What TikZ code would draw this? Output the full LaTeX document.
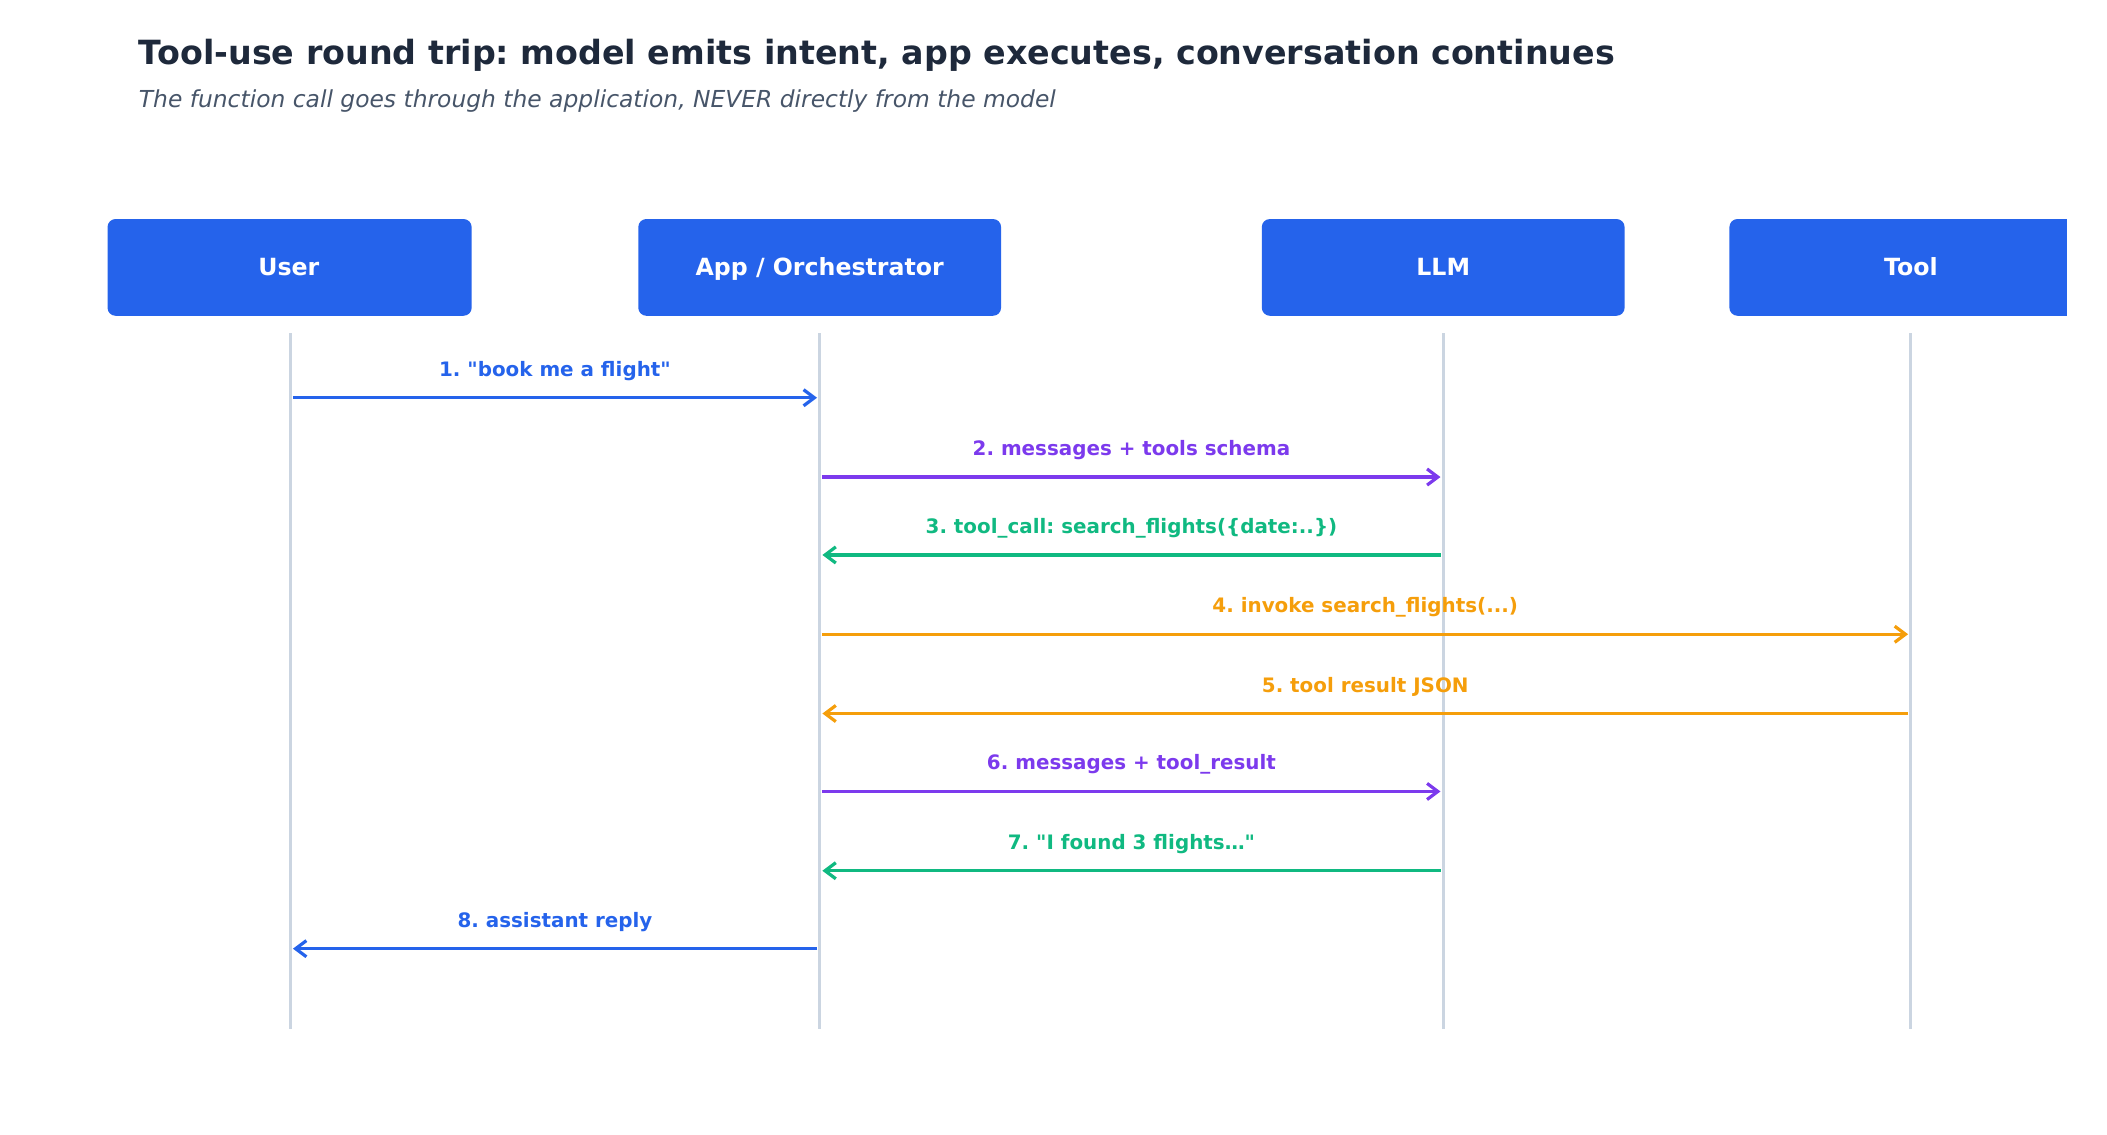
\documentclass[tikz,border=0pt]{standalone}
\usepackage{fontspec}
\setmainfont{DejaVu Sans}[Ligatures=TeXOff]
\usetikzlibrary{arrows.meta}
\definecolor{boxb}{HTML}{2563EB}
\definecolor{cblue}{HTML}{2563EB}
\definecolor{cpurp}{HTML}{7C3AED}
\definecolor{cgreen}{HTML}{10B981}
\definecolor{corange}{HTML}{F59E0B}
\definecolor{ctitle}{HTML}{1E293B}
\definecolor{csub}{HTML}{475569}
\definecolor{cline}{HTML}{CBD5E1}
\frenchspacing
\begin{document}
\begin{tikzpicture}[x=0.5pt,y=-0.5pt,
  actor/.style={fill=boxb,rounded corners=3pt,draw=none},
  atext/.style={text=white,font=\fontsize{8.8}{10}\selectfont\bfseries,anchor=base},
  life/.style={draw=cline,line width=1.1pt},
  msg/.style={line width=1.2pt,-{Straight Barb[length=4pt,width=6pt]}},
  lab/.style={font=\fontsize{7.4}{8}\selectfont\bfseries,anchor=base}]
\useasboundingbox (0,0) rectangle (1568,844);
\node[anchor=base west,text=ctitle,font=\fontsize{12.4}{14}\selectfont\bfseries,inner sep=0] (title) at (103,48) {Tool-use round trip: model emits intent, app executes, conversation continues};
\node[anchor=base west,text=csub,font=\fontsize{8.7}{10}\selectfont\itshape,inner sep=0] (sub) at (103,80) {The function call goes through the application, NEVER directly from the model};
\fill[actor] (80,163) rectangle (351,235);
\fill[actor] (475,163) rectangle (745,235);
\fill[actor] (939,163) rectangle (1209,235);
\fill[boxb,rounded corners=3pt] (1287,163) -- (1538,163) -- (1538,235) -- (1287,235) -- cycle;
\fill[boxb] (1500,163) rectangle (1538,235);
\node[atext] (u) at (215,205) {User};
\node[atext] (a) at (610,205) {App / Orchestrator};
\node[atext] (l) at (1074,205) {LLM};
\node[atext] (t) at (1422,205) {Tool};
\foreach \n/\x in {U/216,A/610,L/1074,T/1422}{
  \coordinate (\n top) at (\x,248); \coordinate (\n bot) at (\x,766);
  \draw[life] (\n top) -- (\n bot);}
\foreach \y in {296,355,413,472,531,589,648,706}{
  \coordinate (U\y) at (218,\y); \coordinate (A\y) at (612,\y);
  \coordinate (Ai\y) at (608,\y);
  \coordinate (L\y) at (1072,\y); \coordinate (T\y) at (1420,\y);}
\draw[msg,cblue] (U296) -- (Ai296) node[lab,midway,above=8pt,anchor=base] {1. "book me a flight"};
\draw[msg,cpurp] (A355) -- (L355) node[lab,midway,above=8pt,anchor=base] {2. messages + tools schema};
\draw[msg,cgreen] (L413) -- (A413) node[lab,midway,above=8pt,anchor=base] {3. tool\_call: search\_flights(\{date:..\})};
\draw[msg,corange] (A472) -- (T472) node[lab,midway,above=8pt,anchor=base] {4. invoke search\_flights(...)};
\draw[msg,corange] (T531) -- (A531) node[lab,midway,above=8pt,anchor=base] {5. tool result JSON};
\draw[msg,cpurp] (A589) -- (L589) node[lab,midway,above=8pt,anchor=base] {6. messages + tool\_result};
\draw[msg,cgreen] (L648) -- (A648) node[lab,midway,above=8pt,anchor=base] {7. "I found 3 flights…"};
\draw[msg,cblue] (Ai706) -- (U706) node[lab,midway,above=8pt,anchor=base] {8. assistant reply};
\end{tikzpicture}
\end{document}
